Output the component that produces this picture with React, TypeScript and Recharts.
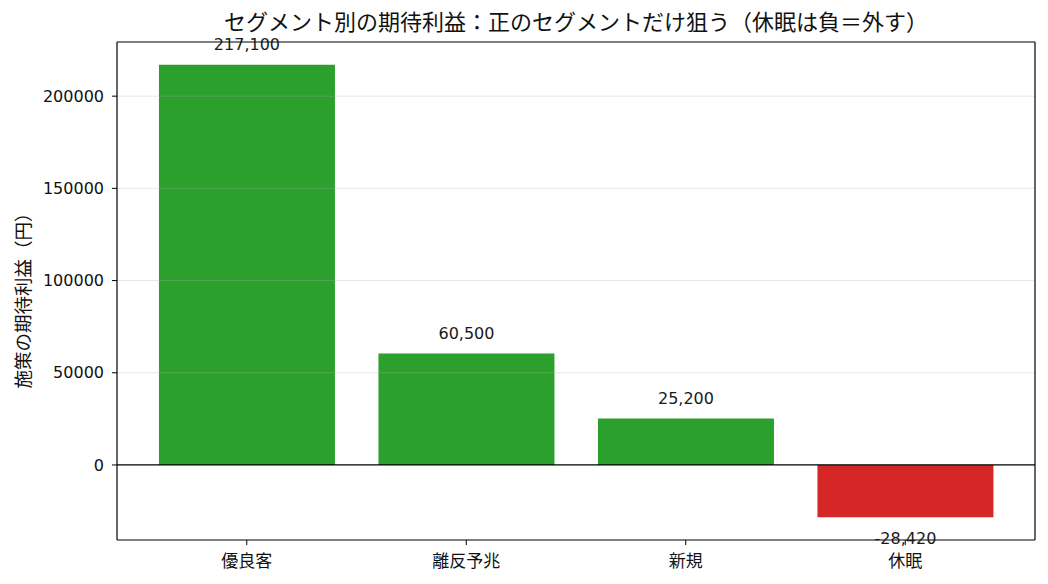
import React from "react";
import {
  Bar,
  BarChart,
  Cell,
  LabelList,
  ReferenceLine,
  XAxis,
  YAxis,
} from "recharts";

const segments = ["優良客", "離反予兆", "新規", "休眠"];
const profits = [217100, 60500, 25200, -28420];
const yTicks = [0, 50000, 100000, 150000, 200000];

const POS = "#2ca02c";
const NEG = "#d62728";
const FONT = "'Noto Sans CJK JP', 'Noto Sans', sans-serif";
const NUM_FONT = "'DejaVu Sans', 'Noto Sans CJK JP', sans-serif";
const Y_DOMAIN = [-40696, 229376];

const data = segments.map((name, i) => ({ name, value: profits[i] }));

const ValueLabel = (props: any) => {
  const { x, y, width, height, value } = props;
  const cx = x + width / 2;
  const top = Math.min(y, y + height);
  const bottom = Math.max(y, y + height);
  return (
    <text
      x={cx}
      y={value < 0 ? bottom + 21 : top - 20}
      textAnchor="middle"
      dominantBaseline="central"
      fontSize={16}
      fill="#1a1a1a"
      fontFamily={NUM_FONT}
    >
      {value.toLocaleString("en-US")}
    </text>
  );
};

export default function App() {
  return (
    <div
      style={{
        position: "absolute",
        left: 0,
        top: 0,
        width: 1048,
        height: 584,
        background: "#fff",
        fontFamily: FONT,
      }}
    >
      <div
        style={{
          position: "absolute",
          left: 117,
          width: 918,
          top: 6,
          lineHeight: "28px",
          textAlign: "center",
          fontSize: 22,
          color: "#111",
        }}
      >
        セグメント別の期待利益：正のセグメントだけ狙う（休眠は負＝外す）
      </div>
      <div
        style={{
          position: "absolute",
          left: 22,
          top: 296,
          transform: "translate(-50%, -50%) rotate(-90deg)",
          whiteSpace: "nowrap",
          fontSize: 18.5,
          lineHeight: "20px",
          color: "#111",
        }}
      >
        施策の期待利益（円）
      </div>
      <BarChart
        width={1048}
        height={584}
        data={data}
        margin={{ top: 41, right: 12, left: 0, bottom: 0 }}
        barCategoryGap="10%"
      >
        <XAxis
          dataKey="name"
          xAxisId="bottom"
          height={44}
          padding={{ left: 20, right: 20 }}
          tickSize={5}
          tickLine={{ stroke: "#000" }}
          axisLine={{ stroke: "#000", strokeWidth: 1.2 }}
          tick={{ fill: "#111", fontSize: 17, fontFamily: FONT }}
          tickMargin={10}
          interval={0}
        />
        <XAxis
          dataKey="name"
          xAxisId="top"
          orientation="top"
          height={1}
          tick={false}
          tickLine={false}
          axisLine={{ stroke: "#000", strokeWidth: 1.2 }}
        />
        <YAxis
          yAxisId="left"
          width={117}
          domain={Y_DOMAIN}
          ticks={yTicks}
          allowDataOverflow
          tickSize={5}
          tickLine={{ stroke: "#000" }}
          axisLine={{ stroke: "#000", strokeWidth: 1.2 }}
          tick={{ fill: "#111", fontSize: 16, fontFamily: NUM_FONT }}
          tickMargin={8}
        />
        <YAxis
          yAxisId="right"
          orientation="right"
          width={1}
          domain={Y_DOMAIN}
          allowDataOverflow
          tick={false}
          tickLine={false}
          axisLine={{ stroke: "#000", strokeWidth: 1.2 }}
        />
        <Bar
          dataKey="value"
          xAxisId="bottom"
          yAxisId="left"
          isAnimationActive={false}
        >
          {data.map((d) => (
            <Cell key={d.name} fill={d.value >= 0 ? POS : NEG} />
          ))}
          <LabelList dataKey="value" content={ValueLabel} />
        </Bar>
        {/* grid sits above the bars like in the original */}
        {yTicks
          .filter((t) => t !== 0)
          .map((t) => (
            <ReferenceLine
              key={t}
              y={t}
              yAxisId="left"
              xAxisId="bottom"
              stroke="#b0b0b0"
              strokeOpacity={0.3}
            />
          ))}
        <ReferenceLine
          y={0}
          yAxisId="left"
          xAxisId="bottom"
          stroke="#000"
          strokeWidth={1.3}
        />
      </BarChart>
    </div>
  );
}
